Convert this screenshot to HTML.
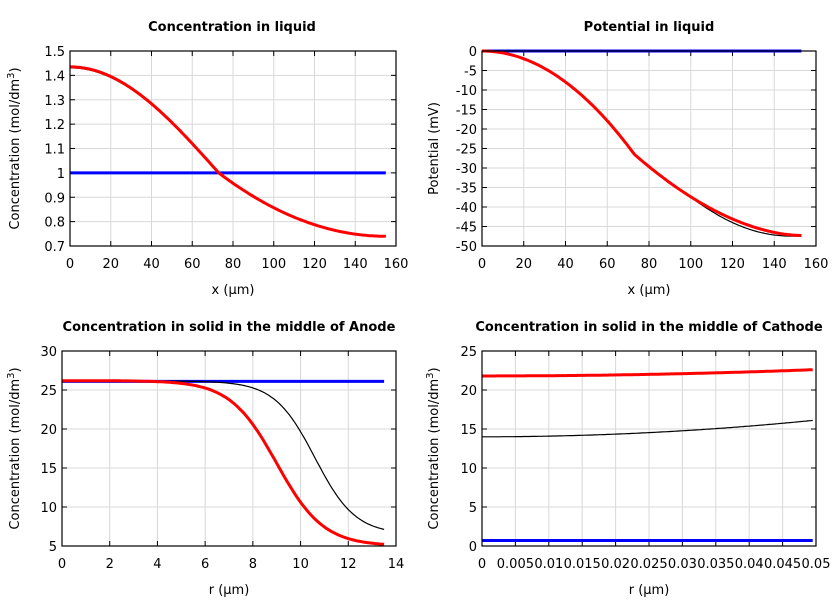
<!DOCTYPE html>
<html><head><meta charset="utf-8"><style>
body{margin:0;background:#fff;}
svg{display:block;font-family:"Liberation Sans","DejaVu Sans",sans-serif;}
</style></head><body>
<svg id="s" width="840" height="600" viewBox="0 0 840 600" xmlns="http://www.w3.org/2000/svg"></svg>
<script>
const S=document.getElementById('s');let h='';
function panel(o){
 const {x0,x1,y0,y1,xmin,xmax,ymin,ymax,xt,yt,title,xl,yl,series,tx}=o;
 const X=v=>x0+(v-xmin)/(xmax-xmin)*(x1-x0), Y=v=>y1-(v-ymin)/(ymax-ymin)*(y1-y0);
 h+=`<text x="${tx}" y="${y0-20}" font-size="13" font-weight="bold" text-anchor="middle" font-family="DejaVu Sans,sans-serif">${title}</text>`;
 xt.forEach(t=>{const px=X(t[0]);h+=`<line x1="${px}" y1="${y0}" x2="${px}" y2="${y1}" stroke="#d8d8d8"/><line x1="${px}" y1="${y1}" x2="${px}" y2="${y1-5}" stroke="#000"/><line x1="${px}" y1="${y0}" x2="${px}" y2="${y0+5}" stroke="#000"/><text x="${px}" y="${y1+22}" font-size="13" text-anchor="middle" font-family="DejaVu Sans,sans-serif">${t[1]}</text>`;});
 yt.forEach(t=>{const py=Y(t[0]);h+=`<line x1="${x0}" y1="${py}" x2="${x1}" y2="${py}" stroke="#d8d8d8"/><line x1="${x0}" y1="${py}" x2="${x0+5}" y2="${py}" stroke="#000"/><line x1="${x1}" y1="${py}" x2="${x1-5}" y2="${py}" stroke="#000"/><text x="${x0-5}" y="${py+5}" font-size="13" text-anchor="end" font-family="DejaVu Sans,sans-serif">${t[1]}</text>`;});
 h+=`<text x="${(x0+x1)/2}" y="${y1+48}" font-size="13" text-anchor="middle" font-family="DejaVu Sans,sans-serif">${xl}</text>`;
 h+=`<text transform="translate(${yl[0]},${(y0+y1)/2}) rotate(-90)" font-size="13" text-anchor="middle" font-family="DejaVu Sans,sans-serif">${yl[1]}</text>`;
 series.forEach(s=>{let p='';for(let i=0;i<=200;i++){const v=s.a+(s.b-s.a)*i/200;p+=(i?'L':'M')+X(v).toFixed(1)+','+Y(s.f(v)).toFixed(1);}h+=`<path d="${p}" fill="none" stroke="${s.c}" stroke-width="${s.w}"/>`;});
 h+=`<rect x="${x0}" y="${y0}" width="${x1-x0}" height="${y1-y0}" fill="none" stroke="#000" stroke-width="1.2"/>`;
}
const r=(a,b,s,f)=>{const o=[];for(let v=a;v<=b+1e-9;v+=s)o.push([v,f?f(v):String(+v.toFixed(3))]);return o;};
const cl=(x,e)=>x<73?1+(1.435-1)*Math.cos(Math.PI/2*x/73):e+(1-e)*Math.pow(1-(x-73)/82,2);
const pl=(x,e)=>x<73?-26.5*Math.pow(x/73,2):-26.5+(e+26.5)*(1-Math.pow(1-(x-73)/80,1.8));
const yl='Concentration (mol/dm<tspan dy="-5" font-size="10">3</tspan><tspan dy="5">)</tspan>';
panel({x0:70,x1:396,y0:51,y1:246,xmin:0,xmax:160,ymin:0.7,ymax:1.5,tx:232,title:'Concentration in liquid',xl:'x (µm)',yl:[19,yl],
 xt:r(0,160,20),yt:r(0.7,1.5,0.1,v=>String(+v.toFixed(1))),
 series:[{a:0,b:155,c:'#00f',w:3,f:()=>1},{a:0,b:155,c:'#000',w:1.2,f:x=>cl(x,0.745)-0.004},{a:0,b:155,c:'#f00',w:3,f:x=>cl(x,0.74)}]});
panel({x0:482,x1:816,y0:51,y1:246,xmin:0,xmax:160,ymin:-50,ymax:0,tx:649,title:'Potential in liquid',xl:'x (µm)',yl:[438,'Potential (mV)'],
 xt:r(0,160,20),yt:r(-50,0,5),
 series:[{a:0,b:153,c:'#00f',w:3,f:()=>0},{a:0,b:153,c:'#000',w:1.2,f:x=>pl(x,-47.5)-(x>100&&x<150?0.8*Math.sin(Math.PI*(x-100)/50):0)},{a:0,b:153,c:'#f00',w:3,f:x=>pl(x,-47.3)}]});
const lg=(r,c,w,b,t)=>b+(t-b)/(1+Math.exp((r-c)/w));
panel({x0:62,x1:396,y0:351,y1:546,xmin:0,xmax:14,ymin:5,ymax:30,tx:229,title:'Concentration in solid in the middle of Anode',xl:'r (µm)',yl:[19,yl],
 xt:r(0,14,2),yt:r(5,30,5),
 series:[{a:0,b:13.5,c:'#00f',w:3,f:()=>26.1},{a:0,b:13.5,c:'#000',w:1.2,f:v=>lg(v,10.6,0.85,6.5,26.15)},{a:0,b:13.5,c:'#f00',w:3,f:v=>lg(v,9,0.98,5,26.2)}]});
panel({x0:482,x1:816,y0:351,y1:546,xmin:0,xmax:0.05,ymin:0,ymax:25,tx:649,title:'Concentration in solid in the middle of Cathode',xl:'r (µm)',yl:[438,yl],
 xt:r(0,0.05,0.005),yt:r(0,25,5),
 series:[{a:0,b:0.0495,c:'#00f',w:3,f:()=>0.7},{a:0,b:0.0495,c:'#000',w:1.2,f:v=>14+2.1*Math.pow(v/0.0495,2)},{a:0,b:0.0495,c:'#f00',w:3,f:v=>21.8+0.8*Math.pow(v/0.0495,2)}]});
S.innerHTML=h;
</script>
</body></html>
